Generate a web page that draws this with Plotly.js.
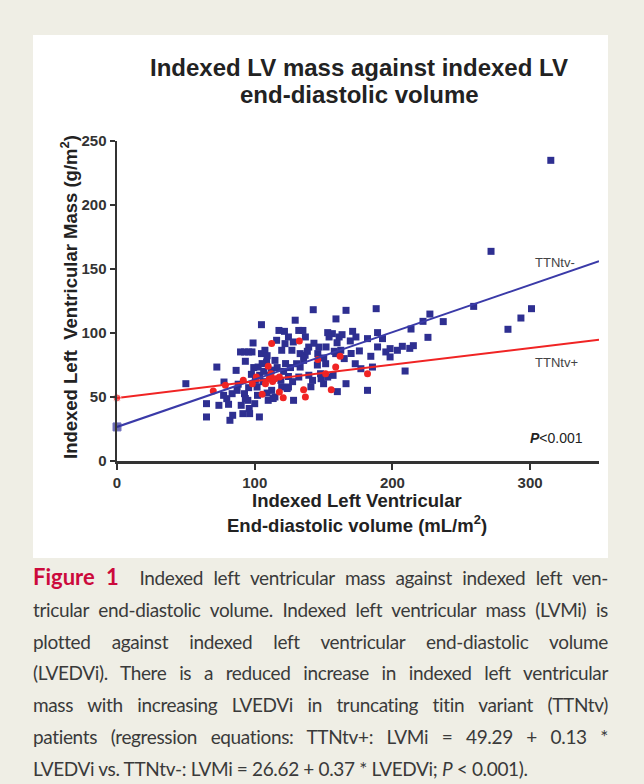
<!DOCTYPE html>
<html>
<head>
<meta charset="utf-8">
<script src="https://cdn.plot.ly/plotly-3.0.1.min.js"></script>
<style>
  html, body { margin: 0; padding: 0; }
  body { width: 644px; height: 784px; background: #efeee5; position: relative; overflow: hidden; }
  #box { position: absolute; left: 33px; top: 35px; width: 575px; height: 523px; background: #ffffff; }
  #chart { position: absolute; left: 0; top: 0; width: 644px; height: 560px; }
  #caption { position: absolute; left: 33px; top: 561px; width: 575px; font-family: Lato, "Open Sans", sans-serif; font-size: 19px; letter-spacing: -0.35px; color: #3a3a3a; line-height: 31.8px; }
  #caption .ln { text-align: justify; text-align-last: justify; white-space: nowrap; }
  #caption .last { text-align: left; text-align-last: left; }
  #caption .fig { color: #cc0a3c; font-weight: bold; font-size: 22px; letter-spacing: 0; }
</style>
</head>
<body>
<div id="box"></div>
<div id="chart"></div>
<div id="caption">
  <div class="ln"><span class="fig">Figure 1</span>&nbsp; Indexed left ventricular mass against indexed left ven-</div>
  <div class="ln">tricular end-diastolic volume. Indexed left ventricular mass (LVMi) is</div>
  <div class="ln">plotted against indexed left ventricular end-diastolic volume</div>
  <div class="ln">(LVEDVi). There is a reduced increase in indexed left ventricular</div>
  <div class="ln">mass with increasing LVEDVi in truncating titin variant (TTNtv)</div>
  <div class="ln">patients (regression equations: TTNtv+: LVMi = 49.29 + 0.13 *</div>
  <div class="ln last">LVEDVi vs. TTNtv-: LVMi = 26.62 + 0.37 * LVEDVi; <i>P</i> &lt; 0.001).</div>
</div>
<script>
// ---- data ----
const negX = [50,65,65,72.5,74,77.7,79.7,82,84,86.5,83.6,89.7,92.6,95.6,98,98.8,90.2,91.4,96.3,92.6,95,100,103.4,104.9,102,104.9,107.4,108.6,102.5,109.8,112.3,114.7,115.9,117.6,119.6,122,124.5,127,129.4,132,133,135.5,136.8,139.2,128.2,124.5,119.6,114.7,132,133,130.4,142,142.5,146.6,147.8,150,151.5,154,156.4,159,160,158.8,161.3,162.5,
  315,271.6,259,301,293.3,283.9,236.9,227.2,222.2,225.8,213.5,215.2,212.6,209.2,207.2,203.6,198.3,198.3,195.2,192.8,189.2,189.2,188.2,181.9,184.3,185.5,181.9,177.1,173,173.5,171.1,169.4,166.3,166.3,163.4,159.8,157.8,153,156.9,153,148.2,150.1,151.8,145.8,136.6,135,
  121.6,128,138.2,93.2,99.3,105.4,109,116.3,122.4,126,97.6,103.6,95.6,101.7,109,113.4,123.6,93.2,87.2,77.4,81,139.3,140.8,
  106,111,119,124.5,112,100.5,88,106.5,127.5,121,96,145.5,165,170,176,143];
const negY = [60.4,44.8,34.4,73.4,43.5,61.7,48.7,31.8,35.7,70.8,52.6,85.2,85.2,85.2,85.2,92.2,43.5,37,37,52.6,47.4,44.8,34.4,106.5,51.3,83.9,86.5,77.3,73.4,47.4,55.2,78.6,94.3,102,86.5,91.7,96.9,86.5,110,102,83.9,78.6,96.9,89,47.4,57.8,57.8,50,65.6,73.4,76,63,118.2,89,68.2,60.4,76,96.9,99.5,111,54.2,83.9,96.9,86.5,
  234.9,163.8,120.8,119,111.7,102.9,108.9,114.8,109.1,96.6,103.1,90.1,88,70.3,89.6,86.5,87.8,81.3,85.2,95.6,89.1,100.3,119,95.6,81.8,73.4,55.2,72.1,76,96.9,101.3,93.8,117.7,60.4,98.7,92.4,85.7,100.3,66.9,65.6,64.3,80.5,89.1,83.9,82.6,102,
  101.3,93,85.7,77.9,73,76.1,82.3,73,76.1,73,67.7,67,57.3,57.8,53.1,48.8,56.6,48.8,55.2,51.3,44.3,67,58,
  62,67,63,66,71,63,60,70,62,70,41,75,80,84,86,92];
const posX = [69.9,78.7,91.7,98.3,101.2,105.4,107.8,112.3,109.8,111.8,113,114.7,117.9,117.9,120.7,132.4,135.5,136.8,145.8,151.5,155.6,158.8,162,181.9,110.5];
const posY = [54.7,59.1,63,60.4,65.6,52.1,60.4,91.7,74,68.2,62.2,64.3,65.6,53.9,49.5,93.8,55.7,50,79.2,68.2,55.7,73.4,81.8,68.2,64];
// regression lines (from the equations in the caption), endpoints x = 0 and 350
const fitX = [0, 350];
const fitNegY = [26.62, 156.12];
const fitPosY = [49.29, 94.79];
const xTicks = [0, 100, 200, 300];
const yTicks = [0, 50, 100, 150, 200, 250];

const BLUE = '#2e2f91';
const RED = '#f02424';
const FONT = '"Liberation Sans", Arial, sans-serif';

// geometry helpers (plot area in page pixels)
const L = 117, R = 599, T = 141, B = 461;
const px = v => (v - L) / (R - L);
const py = v => (B - v) / (B - T);

const traces = [
  { x: negX, y: negY, type: 'scatter', mode: 'markers', cliponaxis: false,
    marker: { symbol: 'square', size: 7, color: BLUE } },
  { x: posX, y: posY, type: 'scatter', mode: 'markers', cliponaxis: false,
    marker: { symbol: 'circle', size: 7, color: RED } },
  { x: fitX, y: fitNegY, type: 'scatter', mode: 'lines+markers', cliponaxis: false,
    line: { color: '#3a3aa8', width: 2 },
    marker: { symbol: 'square', size: [8, 0], color: BLUE } },
  { x: fitX, y: fitPosY, type: 'scatter', mode: 'lines+markers', cliponaxis: false,
    line: { color: RED, width: 2 },
    marker: { symbol: 'circle', size: [8, 0], color: RED } }
];

const axisCommon = {
  showline: true, linewidth: 2.5, linecolor: '#333', ticks: 'outside', ticklen: 6, tickwidth: 2,
  tickcolor: '#333', showgrid: false, zeroline: false, fixedrange: true,
  tickfont: { family: FONT, size: 15, color: '#333', weight: 'bold' }
};

const ann = (text, x, y, opts) => Object.assign({
  text, x: px(x), y: py(y), xref: 'paper', yref: 'paper', showarrow: false,
  font: { family: FONT, size: 18.5, color: '#222', weight: 'bold' }, xanchor: 'center', yanchor: 'middle'
}, opts || {});

const layout = {
  width: 644, height: 560,
  margin: { l: L, r: 644 - R, t: T, b: 560 - B },
  paper_bgcolor: 'rgba(0,0,0,0)', plot_bgcolor: 'rgba(0,0,0,0)',
  showlegend: false,
  xaxis: Object.assign({}, axisCommon, { range: [0, 350], tickvals: xTicks, ticktext: xTicks.map(String) }),
  yaxis: Object.assign({}, axisCommon, { range: [0, 250], tickvals: yTicks, ticktext: yTicks.map(String), ticklen: 5 }),
  annotations: [
    ann('Indexed LV mass against indexed LV', 359, 67, { font: { family: FONT, size: 24, color: '#222', weight: 'bold' } }),
    ann('end-diastolic volume', 359, 95, { font: { family: FONT, size: 24, color: '#222', weight: 'bold' } }),
    ann('Indexed Left  Ventricular Mass (g/m<sup>2</sup>)', 69, 297, { textangle: -90 }),
    ann('Indexed Left Ventricular', 357, 500),
    ann('End-diastolic volume (mL/m<sup>2</sup>)', 357, 524),
    ann('TTNtv-', 533, 262, { xanchor: 'left', font: { family: FONT, size: 13, color: '#444' } }),
    ann('TTNtv+', 533, 362, { xanchor: 'left', font: { family: FONT, size: 13, color: '#444' } }),
    ann('<b><i>P</i></b><0.001', 528, 438, { xanchor: 'left', font: { family: FONT, size: 14, color: '#222' } })
  ]
};

Plotly.newPlot('chart', traces, layout, { staticPlot: true, displayModeBar: false });
</script>
</body>
</html>
